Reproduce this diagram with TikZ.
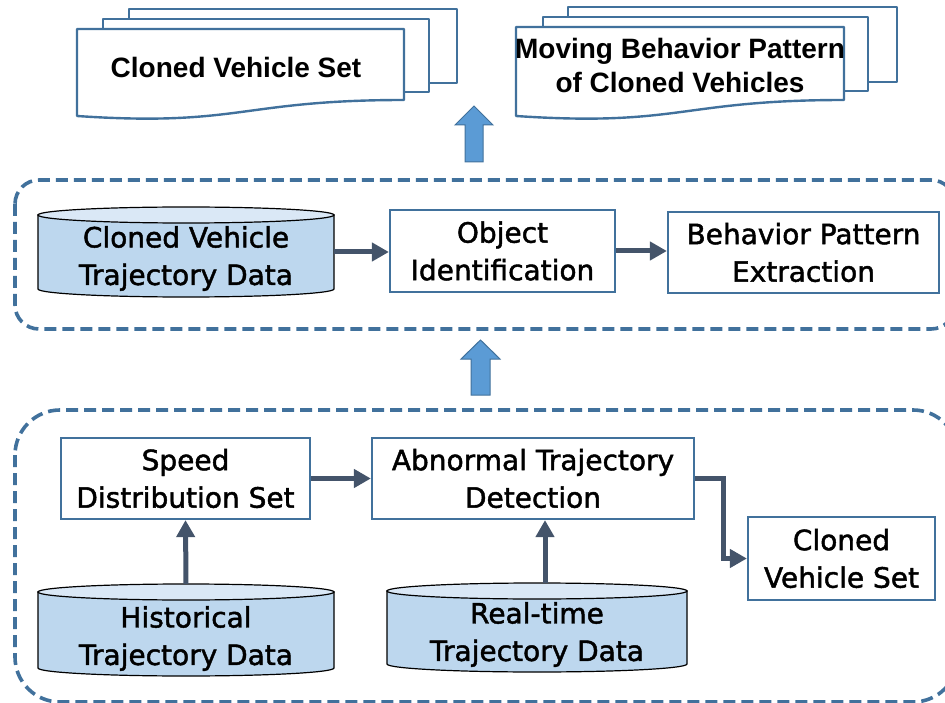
\documentclass[tikz,border=0pt]{standalone}
\usepackage{fontspec}
\setmainfont{DejaVu Sans}
\newfontfamily\yhfont[FakeBold=1.6]{DejaVu Sans}
\newfontfamily\arialfont{Liberation Sans}
\usetikzlibrary{arrows.meta,calc}
\definecolor{bord}{HTML}{41719C}
\definecolor{conncol}{HTML}{44546A}
\definecolor{cylfill}{HTML}{BDD7EE}
\definecolor{cyltop}{HTML}{DAE8F6}
\definecolor{blkfill}{HTML}{5B9BD5}
\begin{document}
\begin{tikzpicture}[x=1pt,y=-1pt,
  procbox/.style={draw=bord, line width=2.2pt, fill=white, align=center,
    font=\yhfont\fontsize{28}{37.5}\selectfont, inner sep=0pt},
  cyltext/.style={align=center, font=\yhfont\fontsize{28}{37.5}\selectfont, inner sep=0pt},
  cylnode/.style={inner sep=0pt},
  cylbody/.style={fill=cylfill, draw=black, line width=1.2pt},
  cylcap/.style={fill=cyltop, draw=black, line width=1.2pt},
  dashbox/.style={draw=bord, line width=3.6pt, dash pattern=on 12pt off 6pt},
  connector/.style={draw=conncol, line width=5pt, -{Triangle[length=17pt,width=18pt]}},
  docpage/.style={draw=bord, line width=2.4pt, fill=white, line join=round},
  doctext/.style={align=center, font=\arialfont\bfseries\fontsize{28}{34}\selectfont, inner sep=0pt},
  blockarrow/.style={draw=bord, line width=1pt, fill=blkfill}]
\useasboundingbox (0,0) rectangle (945,703);

% dashed group boxes
\draw[dashbox, rounded corners=24pt] (15,180) rectangle (955,329);
\draw[dashbox, rounded corners=45pt] (15,410) rectangle (958,702);

% document stacks
\path[docpage] (129,9) rectangle (457,83);
\path[docpage] (103,19) rectangle (429,92);
\path[docpage] (77,29) -- (404,29) -- (404,100) .. controls (240,100) and (240,127) .. (77,116) -- cycle;
\node[doctext] (docA) at (236,67) {Cloned Vehicle Set};

\path[docpage] (568,7) rectangle (897,82);
\path[docpage] (543,17) rectangle (868,91);
\path[docpage] (516,27) -- (844,27) -- (844,100) .. controls (680,100) and (680,127) .. (516,116) -- cycle;
\node[doctext] (docB) at (680,65) {Moving Behavior Pattern\\of Cloned Vehicles};

% block arrows
\path[blockarrow] (474,106) -- (493,125) -- (483,125) -- (483,162) -- (465,162) -- (465,125) -- (455,125) -- cycle;
\path[blockarrow] (480.5,340) -- (500,359) -- (490,359) -- (490,395) -- (471,395) -- (471,359) -- (461,359) -- cycle;

% cylinders
\path[cylbody] (38,215) -- (38,289) arc[start angle=180,end angle=0,x radius=148,y radius=8] -- (334,215) -- cycle;
\path[cylcap] (186,215) ellipse[x radius=148,y radius=8];
\node[cylnode, minimum width=296pt, minimum height=90pt] (cvt) at (186,252) {};
\node[cyltext] (cvtT) at (186,258.5) {Cloned Vehicle\\Trajectory Data};

\path[cylbody] (38,592) -- (38,668) arc[start angle=180,end angle=0,x radius=148,y radius=8] -- (334,592) -- cycle;
\path[cylcap] (186,592) ellipse[x radius=148,y radius=8];
\node[cylnode, minimum width=296pt, minimum height=92pt] (hist) at (186,630) {};
\node[cyltext] (histT) at (186,638.5) {Historical\\Trajectory Data};

\path[cylbody] (387,591) -- (387,664) arc[start angle=180,end angle=0,x radius=150,y radius=8] -- (687,591) -- cycle;
\path[cylcap] (537,591) ellipse[x radius=150,y radius=8];
\node[cylnode, minimum width=300pt, minimum height=89pt] (rt) at (537,627.5) {};
\node[cyltext] (rtT) at (537,634.5) {Real-time\\Trajectory Data};

% process boxes
\node[procbox, minimum width=225pt, minimum height=82pt] (obj) at (502.5,251) {Object\\Identification};
\node[procbox, minimum width=271pt, minimum height=81pt] (beh) at (803.5,252.5) {Behavior Pattern\\Extraction};
\node[procbox, minimum width=249pt, minimum height=81pt] (spd) at (185.5,478.5) {Speed\\Distribution Set};
\node[procbox, minimum width=322pt, minimum height=81pt] (abn) at (533,478.5) {Abnormal Trajectory\\Detection};
\node[procbox, minimum width=187pt, minimum height=83pt] (cvs) at (841.5,558.5) {Cloned\\Vehicle Set};

% connectors
\coordinate (rtx) at (545,0);
\draw[connector] (cvt.east) -- (obj.west |- cvt.east);
\draw[connector] (obj.east) -- (beh.west |- obj.east);
\draw[connector] (spd.east) -- (abn.west);
\draw[connector] (hist.north) -- (spd.south);
\draw[connector] (rt.north -| rtx) -- (abn.south -| rtx);
\draw[connector] (abn.east) -- ++(28,0) |- (cvs.west);
\end{tikzpicture}
\end{document}
